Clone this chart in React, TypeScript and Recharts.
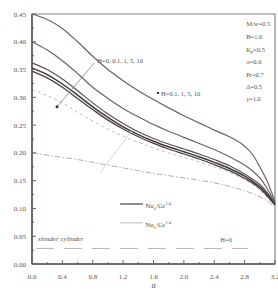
import React from 'react';
import { LineChart, Line, XAxis, YAxis, ReferenceLine, ReferenceDot, ReferenceArea } from 'recharts';

const XS = [0, 0.2, 0.4, 0.6, 0.8, 1.0, 1.2, 1.4, 1.6, 1.8, 2.0, 2.2, 2.4, 2.6, 2.8, 2.9, 3.0, 3.1, 3.2];
const CURVE_A = [0.450, 0.440, 0.424, 0.400, 0.374, 0.350, 0.330, 0.312, 0.296, 0.281, 0.267, 0.254, 0.241, 0.229, 0.212, 0.198, 0.175, 0.148, 0.112];
const CURVE_B = [0.400, 0.385, 0.366, 0.343, 0.318, 0.298, 0.280, 0.265, 0.251, 0.239, 0.228, 0.217, 0.206, 0.193, 0.178, 0.168, 0.155, 0.135, 0.110];
const CURVE_C = [0.362, 0.350, 0.333, 0.312, 0.290, 0.270, 0.253, 0.238, 0.226, 0.216, 0.207, 0.198, 0.188, 0.177, 0.162, 0.153, 0.143, 0.128, 0.108];
const CURVE_D = [0.353, 0.341, 0.324, 0.304, 0.283, 0.264, 0.247, 0.233, 0.221, 0.211, 0.202, 0.193, 0.183, 0.172, 0.158, 0.149, 0.139, 0.125, 0.107];
const CURVE_E = [0.347, 0.335, 0.318, 0.298, 0.278, 0.259, 0.243, 0.229, 0.217, 0.207, 0.198, 0.189, 0.179, 0.168, 0.154, 0.146, 0.136, 0.122, 0.106];
const CURVE_DASH = [0.314, 0.303, 0.290, 0.273, 0.257, 0.243, 0.230, 0.219, 0.209, 0.200, 0.192, 0.184, 0.175, 0.165, 0.152, 0.144, 0.134, 0.120, 0.104];
const CURVE_DASHDOT = [0.200, 0.196, 0.192, 0.188, 0.183, 0.178, 0.173, 0.168, 0.163, 0.159, 0.155, 0.151, 0.146, 0.140, 0.132, 0.127, 0.121, 0.113, 0.103];
const SLENDER_X = [0.05, 2.85];
const SLENDER_V = [0.028, 0.028];

const X_TICKS = [0, 0.2, 0.4, 0.6, 0.8, 1.0, 1.2, 1.4, 1.6, 1.8, 2.0, 2.2, 2.4, 2.6, 2.8, 3.0, 3.2];
const Y_TICKS = [0, 0.025, 0.05, 0.075, 0.1, 0.125, 0.15, 0.175, 0.2, 0.225, 0.25, 0.275, 0.3, 0.325, 0.35, 0.375, 0.4, 0.425, 0.45];

const PARAMS = ['M/w=0.5', 'B=1.0', 'Kp=0.5', 'σ=0.0', 'Pr=0.7', 'Δ=0.5', 'γ=1.0'];
const PARAM_Y = [0.428, 0.405, 0.382, 0.36, 0.337, 0.315, 0.293];

const data = XS.map((x, i) => ({
  x,
  a: CURVE_A[i],
  b: CURVE_B[i],
  c: CURVE_C[i],
  d: CURVE_D[i],
  e: CURVE_E[i],
  f: CURVE_DASH[i],
  g: CURVE_DASHDOT[i],
}));
const slender = SLENDER_X.map((x, i) => ({ x, h: SLENDER_V[i] }));

const FONT = 'Liberation Serif';
const TXT = '#5a5252';

const XTick = (p: any) => {
  const v = p.payload.value;
  const major = Math.round(v * 10) % 4 === 0;
  const ay = p.y - 6;
  return (
    <g>
      <line x1={p.x} x2={p.x} y1={ay} y2={ay - (major ? 4 : 2)} stroke="#6a6060" strokeWidth={1} />
      {major && (
        <text x={p.x} y={ay + 15} textAnchor="middle" fontSize={7} fontFamily={FONT} fill={TXT}>
          {v.toFixed(1)}
        </text>
      )}
    </g>
  );
};

const YTick = (p: any) => {
  const v = p.payload.value;
  const major = Math.round(v * 1000) % 50 === 0;
  const ax = p.x + 6;
  return (
    <g>
      <line x1={ax} x2={ax + (major ? 4 : 2)} y1={p.y} y2={p.y} stroke="#6a6060" strokeWidth={1} />
      {major && (
        <text x={ax - 6} y={p.y + 2.5} textAnchor="end" fontSize={7} fontFamily={FONT} fill={TXT}>
          {v.toFixed(2)}
        </text>
      )}
    </g>
  );
};

const textShape = (content: React.ReactNode, opts: any = {}) => (p: any) => (
  <text
    x={p.cx}
    y={p.cy}
    fontSize={opts.fontSize || 6.5}
    fontFamily={FONT}
    fill={TXT}
    fontStyle={opts.italic ? 'italic' : 'normal'}
    textAnchor="start"
  >
    {content}
  </text>
);

const nuLabel = (
  <>
    Nu<tspan dy={2} fontSize={4.5}>x</tspan>
    <tspan dy={-2}>/Gr</tspan>
    <tspan dy={-3} fontSize={4.5}>1/4</tspan>
  </>
);

export default function App() {
  return (
    <div style={{ position: 'absolute', left: 0, top: 0, background: '#fff' }}>
      <LineChart width={278} height={300} data={data} margin={{ top: 14, right: 3, left: 0, bottom: 0 }}>
        <XAxis
          dataKey="x"
          type="number"
          domain={[0, 3.2]}
          ticks={X_TICKS}
          interval={0}
          tick={<XTick />}
          tickLine={false}
          tickSize={6}
          tickMargin={0}
          height={36}
          stroke="#5a5050"
          strokeWidth={1.5}
          label={{ value: 'α', position: 'insideBottom', offset: 12, fontSize: 8, fontFamily: FONT, fill: TXT }}
        />
        <YAxis
          type="number"
          domain={[0, 0.45]}
          ticks={Y_TICKS}
          interval={0}
          tick={<YTick />}
          tickLine={false}
          tickSize={6}
          tickMargin={0}
          width={32}
          stroke="#5a5050"
          strokeWidth={1.5}
        />
        <ReferenceArea x1={0} x2={3.2} y1={0} y2={0.45} fill="none" stroke="#8a8080" strokeWidth={1.2} />
        <Line dataKey="g" type="monotone" stroke="#b5adad" strokeWidth={1} strokeDasharray="6 2 1.5 2" dot={false} isAnimationActive={false} />
        <Line dataKey="f" type="monotone" stroke="#c2b9b9" strokeWidth={1} strokeDasharray="3 3" dot={false} isAnimationActive={false} />
        <Line dataKey="a" type="monotone" stroke="#6e6262" strokeWidth={1.2} dot={false} isAnimationActive={false} />
        <Line dataKey="b" type="monotone" stroke="#6e6262" strokeWidth={1.2} dot={false} isAnimationActive={false} />
        <Line dataKey="c" type="monotone" stroke="#5a5050" strokeWidth={1.2} dot={false} isAnimationActive={false} />
        <Line dataKey="d" type="monotone" stroke="#3e3838" strokeWidth={1.5} dot={false} isAnimationActive={false} />
        <Line dataKey="e" type="monotone" stroke="#4a4444" strokeWidth={1.3} dot={false} isAnimationActive={false} />
        <Line data={slender} dataKey="h" type="linear" stroke="#bdb5b5" strokeWidth={1} strokeDasharray="18 10" dot={false} isAnimationActive={false} />

        <ReferenceLine segment={[{ x: 0.33, y: 0.283 }, { x: 0.82, y: 0.362 }]} stroke="#8a8080" strokeWidth={0.8} />
        <ReferenceLine segment={[{ x: 1.32, y: 0.241 }, { x: 0.895, y: 0.164 }]} stroke="#d0c8c8" strokeWidth={0.8} />
        <ReferenceDot x={0.33} y={0.283} r={1.5} fill="#333" stroke="none" />
        <ReferenceDot x={1.66} y={0.308} r={1.2} fill="#333" stroke="none" />
        <ReferenceDot x={0.86} y={0.362} r={0} shape={textShape('H=0, 0.1, 1, 5, 10')} />
        <ReferenceDot x={1.70} y={0.303} r={0} shape={textShape('H=0.1, 1, 5, 10')} />
        {PARAMS.map((t, i) => (
          <ReferenceDot
            key={t}
            x={2.82}
            y={PARAM_Y[i]}
            r={0}
            shape={textShape(
              t === 'Kp=0.5' ? (
                <>
                  K<tspan dy={1.5} fontSize={4.5}>p</tspan>
                  <tspan dy={-1.5}>=0.5</tspan>
                </>
              ) : (
                t
              )
            )}
          />
        ))}
        <ReferenceLine segment={[{ x: 1.16, y: 0.108 }, { x: 1.46, y: 0.108 }]} stroke="#5a5050" strokeWidth={1.3} />
        <ReferenceLine segment={[{ x: 1.16, y: 0.074 }, { x: 1.46, y: 0.074 }]} stroke="#c2b9b9" strokeWidth={1} />
        <ReferenceDot x={1.49} y={0.101} r={0} shape={textShape(nuLabel, { fontSize: 7 })} />
        <ReferenceDot x={1.49} y={0.067} r={0} shape={textShape(nuLabel, { fontSize: 7 })} />
        <ReferenceDot x={0.08} y={0.041} r={0} shape={textShape('slender cylinder', { italic: true, fontSize: 7 })} />
        <ReferenceDot x={2.48} y={0.04} r={0} shape={textShape('H=0', { fontSize: 6.5 })} />
      </LineChart>
    </div>
  );
}
